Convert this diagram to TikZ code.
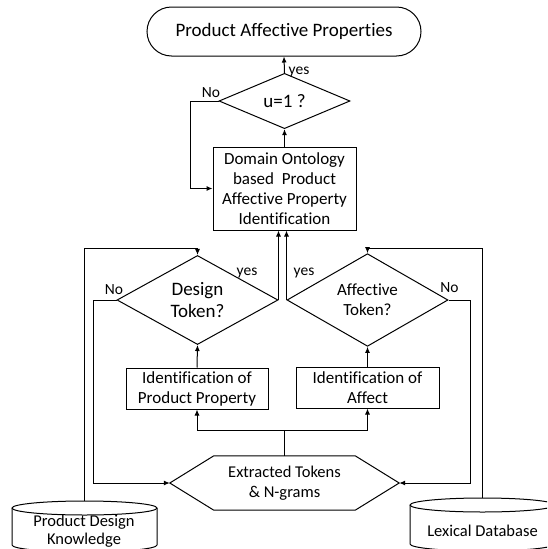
\documentclass[tikz,border=0pt]{standalone}
\usepackage{fontspec}
\setmainfont{Carlito}[Ligatures=NoCommon]
\usetikzlibrary{shapes.geometric,shapes.misc,arrows.meta,calc}

\tikzset{
  flow/.style={line width=1pt},
  arr/.style={flow,-{Latex[length=6pt,width=5pt]}},
  procbox/.style={draw,flow,rectangle,inner sep=0pt,align=center,
    font=\fontsize{17}{20}\selectfont},
  decision/.style={draw,flow,diamond,inner sep=0pt,align=center},
  terminal/.style={draw,flow,rounded rectangle,inner sep=0pt,
    font=\fontsize{19}{22}\selectfont},
  dbtext/.style={inner sep=0pt,align=center,font=\fontsize{16.5}{18}\selectfont},
  tag/.style={inner sep=0pt,font=\fontsize{15.5}{18}\selectfont},
}

% database drum: centre x, top-ellipse centre y, bottom-ellipse centre y, x radius
\newcommand\drawdrum[4]{%
  \draw[flow] (#1,#2) ellipse[x radius=#4,y radius=7];
  \draw[flow] ($(#1,#2)+(-#4,0)$) -- ($(#1,#3)+(-#4,0)$)
    arc[start angle=180,end angle=0,x radius=#4,y radius=7]
    -- ($(#1,#2)+(#4,0)$);
}

\begin{document}
\begin{tikzpicture}[x=1pt,y=-1pt]
\clip (0,0) rectangle (547,549);

% main nodes
\node[terminal,minimum width=274pt,minimum height=49pt] (term) at (284,31.5)
  {Product Affective Properties};
\node[decision,minimum width=131pt,minimum height=42pt,
  font=\fontsize{19}{22}\selectfont] (u) at (284.5,101) {u=1 ?};
\node[procbox,minimum width=143pt,minimum height=83pt] (dom) at (284.5,188.5)
  {Domain Ontology\\based~ Product\\Affective Property\\Identification};
\node[decision,minimum width=161pt,minimum height=62pt,
  font=\fontsize{19}{22}\selectfont] (design) at (197.5,300) {Design\\Token?};
\node[decision,minimum width=161pt,minimum height=62pt,
  font=\fontsize{17}{20}\selectfont] (affect) at (367.5,300) {Affective\\Token?};
\node[procbox,minimum width=142pt,minimum height=41pt] (ipp) at (197,388.5)
  {Identification of\\Product Property};
\node[procbox,minimum width=143pt,minimum height=41pt] (ia) at (367.5,387.5)
  {Identification of\\Affect};
\node[inner sep=0pt,minimum width=229pt,minimum height=54pt,align=center,
  font=\fontsize{16.5}{20}\selectfont] (hex) at (284.5,483)
  {Extracted Tokens\\\& N-grams};
\draw[flow] (hex.west) -- ($(hex.north west)+(44,0)$) -- ($(hex.north east)+(-44,0)$)
  -- (hex.east) -- ($(hex.south east)+(-44,0)$) -- ($(hex.south west)+(44,0)$) -- cycle;

% databases
\drawdrum{84.5}{508}{545}{72.5}
\coordinate (pdktop) at (84.5,501);
\node[dbtext] (pdk) at (84,531) {Product Design\\Knowledge};
\drawdrum{482.5}{505}{544}{72.5}
\coordinate (lextop) at (482.5,498);
\node[dbtext] (lex) at (482.5,531) {Lexical Database};

% connectors
\draw[arr] (u.north) -- (term.south);
\node[tag] (uyes) at (299,72) {yes};
\draw[arr] (dom.north) -- (u.south);
\draw[arr] (u.west) -- ++(-28,0) |- (dom.west);
\node[tag] (uno) at (211,93) {No};

\draw[arr] (design.east) -- (design.east |- dom.south);
\draw[arr] (affect.west) -- (affect.west |- dom.south);
\node[tag] (dyes) at (247,273) {yes};
\node[tag] (ayes) at (304,273) {yes};

\draw[arr] (pdktop) -- (pdktop |- 0,248) -| (design.north);
\draw[arr] (lextop) -- (lextop |- 0,248) -| (affect.north);

\draw[arr] (design.west) -- ++(-23,0) |- (hex.west);
\draw[arr] (affect.east) -- ++(22,0) |- (hex.east);
\node[tag] (dno) at (114,290) {No};
\node[tag] (ano) at (449.5,288) {No};

\draw[flow] (hex.north) -- ++(0,-25) coordinate (split);
\draw[arr] (split) -| (ipp.south);
\draw[arr] (split) -| (ia.south);
\draw[arr] (ipp.north) -- (design.south);
\draw[arr] (ia.north) -- (affect.south);
\end{tikzpicture}
\end{document}
